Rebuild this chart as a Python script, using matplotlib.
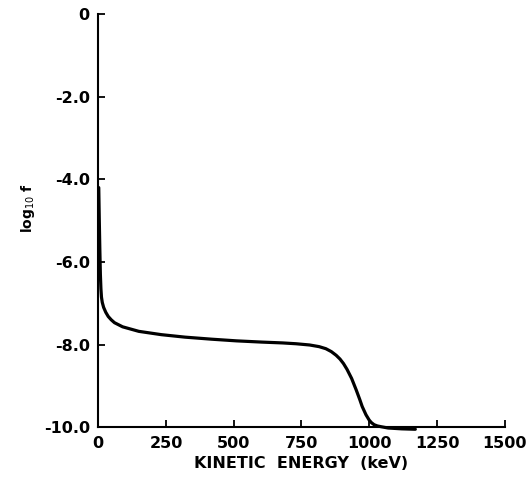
import numpy as np
import matplotlib.pyplot as plt

plt.rcParams['axes.unicode_minus'] = False

# values
energy = [2, 4, 6, 8, 10, 12, 15, 20, 28, 37, 48, 60, 90, 150, 233, 320, 419, 510, 604,
          680, 730, 780, 815, 840, 860, 878, 892, 905, 918, 935, 952, 965, 974, 988, 1000,
          1008, 1018, 1030, 1045, 1070, 1120, 1170]
log_f = [-4.2, -5.0, -5.7, -6.3, -6.65, -6.85, -6.98, -7.1, -7.22, -7.32, -7.4, -7.47,
         -7.57, -7.68, -7.76, -7.82, -7.87, -7.91, -7.94, -7.96, -7.98, -8.01, -8.05,
         -8.1, -8.17, -8.26, -8.35, -8.46, -8.6, -8.82, -9.1, -9.33, -9.5, -9.7, -9.83,
         -9.89, -9.94, -9.97, -9.99, -10.02, -10.04, -10.05]

x_ticks = [0, 250, 500, 750, 1000, 1250, 1500]
y_ticks = [0, -2, -4, -6, -8, -10]
y_labels = ['0', '-2.0', '-4.0', '-6.0', '-8.0', '-10.0']

fig = plt.figure(figsize=(5.28, 4.86), dpi=100)
ax = fig.add_axes([0.186, 0.121, 0.770, 0.850])

ax.plot(energy, log_f, color='black', lw=2.3, clip_on=False,
        solid_capstyle='round', solid_joinstyle='round')

ax.set_xlim(0, 1500)
ax.set_ylim(-10, 0)
ax.spines['top'].set_visible(False)
ax.spines['right'].set_visible(False)
ax.spines['left'].set_linewidth(1.5)
ax.spines['bottom'].set_linewidth(1.5)

ax.set_xticks(x_ticks)
ax.set_xticklabels([str(t) for t in x_ticks])
ax.set_yticks(y_ticks)
ax.set_yticklabels(y_labels)
ax.tick_params(direction='in', length=5, width=1.3, labelsize=11.5, pad=6)
for lab in ax.get_xticklabels() + ax.get_yticklabels():
    lab.set_fontweight('bold')

ax.set_xlabel('KINETIC  ENERGY  (keV)', fontsize=11.5, fontweight='bold', labelpad=4)
ax.set_ylabel(r'log$_{10}$ f', fontsize=10, fontweight='bold', labelpad=10)
ax.yaxis.set_label_coords(-0.15, 0.53)

plt.savefig('out.png', dpi=100)
